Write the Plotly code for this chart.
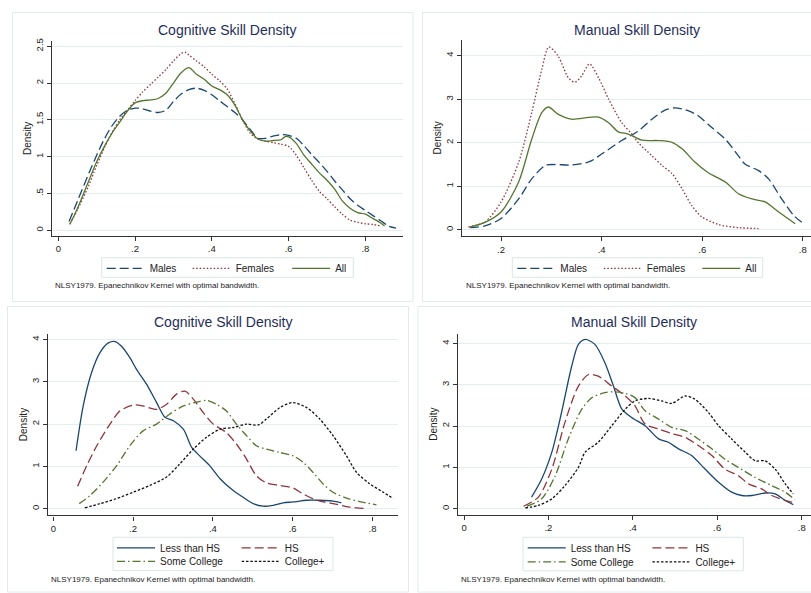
import plotly.graph_objects as go

W, H = 811, 593
FONT = "Liberation Sans, Arial, Helvetica, sans-serif"

# ---------------- data ----------------
# Panel 1: Cognitive skill density by gender
cog_m_x = [0.028, 0.05, 0.08, 0.10, 0.12, 0.14, 0.16, 0.18, 0.20, 0.22, 0.24, 0.26, 0.28, 0.30, 0.32, 0.34, 0.36,
           0.38, 0.40, 0.42, 0.44, 0.46, 0.48, 0.50, 0.52, 0.54, 0.56, 0.58, 0.60, 0.62, 0.64, 0.66, 0.68, 0.70,
           0.72, 0.74, 0.76, 0.78, 0.80, 0.82, 0.84, 0.86, 0.88]
cog_m_y = [0.12, 0.40, 0.78, 1.02, 1.24, 1.42, 1.55, 1.63, 1.66, 1.65, 1.62, 1.60, 1.63, 1.75, 1.85, 1.91, 1.93,
           1.90, 1.84, 1.76, 1.68, 1.60, 1.50, 1.37, 1.25, 1.25, 1.28, 1.30, 1.29, 1.25, 1.15, 1.03, 0.92, 0.80,
           0.67, 0.55, 0.43, 0.34, 0.27, 0.20, 0.13, 0.06, 0.03]
cog_f_x = [0.03, 0.05, 0.08, 0.10, 0.12, 0.14, 0.16, 0.18, 0.20, 0.22, 0.24, 0.26, 0.28, 0.30, 0.32, 0.33, 0.34,
           0.36, 0.38, 0.40, 0.42, 0.44, 0.46, 0.48, 0.50, 0.52, 0.54, 0.56, 0.58, 0.60, 0.62, 0.64, 0.66, 0.68,
           0.70, 0.72, 0.74, 0.76, 0.78, 0.80, 0.82, 0.84]
cog_f_y = [0.09, 0.28, 0.62, 0.88, 1.12, 1.33, 1.50, 1.63, 1.76, 1.88, 1.98, 2.08, 2.18, 2.30, 2.40, 2.42, 2.38,
           2.30, 2.22, 2.12, 2.03, 1.92, 1.72, 1.50, 1.32, 1.24, 1.21, 1.19, 1.17, 1.14, 1.02, 0.85, 0.68, 0.53,
           0.43, 0.32, 0.22, 0.14, 0.11, 0.09, 0.08, 0.06]
cog_a_x = [0.03, 0.05, 0.08, 0.10, 0.12, 0.14, 0.16, 0.18, 0.20, 0.22, 0.24, 0.26, 0.28, 0.30, 0.32, 0.34, 0.36,
           0.38, 0.40, 0.42, 0.44, 0.46, 0.48, 0.50, 0.52, 0.54, 0.56, 0.58, 0.59, 0.60, 0.62, 0.64, 0.66, 0.68,
           0.70, 0.72, 0.74, 0.76, 0.78, 0.80, 0.82, 0.84, 0.85]
cog_a_y = [0.08, 0.30, 0.68, 0.93, 1.14, 1.32, 1.47, 1.62, 1.73, 1.76, 1.77, 1.79, 1.86, 2.00, 2.14, 2.21, 2.12,
           2.05, 1.96, 1.91, 1.84, 1.70, 1.50, 1.35, 1.24, 1.21, 1.22, 1.23, 1.27, 1.27, 1.18, 1.02, 0.90, 0.78,
           0.68, 0.56, 0.40, 0.30, 0.24, 0.22, 0.16, 0.10, 0.06]

# Panel 2: Manual skill density by gender
man_m_x = [0.138, 0.168, 0.20, 0.235, 0.261, 0.288, 0.307, 0.34, 0.377, 0.40, 0.44, 0.473, 0.50, 0.526, 0.546,
           0.573, 0.592, 0.619, 0.646, 0.672, 0.685, 0.712, 0.732, 0.758, 0.782, 0.805]
man_m_y = [0.05, 0.09, 0.26, 0.71, 1.17, 1.48, 1.50, 1.49, 1.57, 1.74, 2.05, 2.27, 2.54, 2.75, 2.80,
           2.73, 2.62, 2.35, 2.08, 1.70, 1.51, 1.36, 1.17, 0.71, 0.33, 0.11]
man_f_x = [0.135, 0.168, 0.20, 0.235, 0.261, 0.281, 0.295, 0.314, 0.334, 0.347, 0.36, 0.376, 0.394, 0.414, 0.44,
           0.46, 0.473, 0.50, 0.52, 0.54, 0.56, 0.579, 0.599, 0.633, 0.672, 0.712]
man_f_y = [0.07, 0.18, 0.64, 1.55, 2.69, 3.68, 4.20, 3.98, 3.49, 3.39, 3.53, 3.81, 3.49, 3.00, 2.46,
           2.20, 2.00, 1.70, 1.48, 1.29, 0.94, 0.56, 0.30, 0.12, 0.05, 0.03]
man_a_x = [0.138, 0.168, 0.20, 0.235, 0.261, 0.281, 0.294, 0.314, 0.34, 0.374, 0.394, 0.414, 0.433, 0.453, 0.48,
           0.513, 0.54, 0.56, 0.586, 0.612, 0.646, 0.672, 0.699, 0.725, 0.752, 0.785]
man_a_y = [0.06, 0.17, 0.41, 1.10, 2.08, 2.69, 2.82, 2.65, 2.54, 2.58, 2.59, 2.46, 2.25, 2.20, 2.06,
           2.05, 2.01, 1.86, 1.55, 1.31, 1.10, 0.83, 0.71, 0.64, 0.41, 0.14]

# Panel 3: Cognitive skill density by education
ced_lhs_x = [0.057, 0.075, 0.096, 0.117, 0.138, 0.155, 0.171, 0.192, 0.209, 0.234, 0.259, 0.280, 0.301, 0.326,
             0.347, 0.367, 0.392, 0.418, 0.451, 0.476, 0.501, 0.526, 0.551, 0.576, 0.601, 0.635, 0.668, 0.701, 0.722]
ced_lhs_y = [1.37, 2.43, 3.22, 3.69, 3.92, 3.95, 3.84, 3.57, 3.29, 2.94, 2.51, 2.16, 2.08, 1.88,
             1.45, 1.25, 1.02, 0.71, 0.43, 0.27, 0.12, 0.06, 0.08, 0.14, 0.16, 0.20, 0.20, 0.18, 0.14]
ced_hs_x = [0.061, 0.084, 0.109, 0.142, 0.167, 0.20, 0.225, 0.259, 0.284, 0.309, 0.33, 0.351, 0.376, 0.401,
            0.434, 0.459, 0.484, 0.509, 0.534, 0.568, 0.601, 0.626, 0.66, 0.701, 0.743, 0.785]
ced_hs_y = [0.53, 1.02, 1.49, 2.00, 2.31, 2.45, 2.43, 2.35, 2.47, 2.71, 2.78, 2.59, 2.27, 2.00,
            1.80, 1.53, 1.18, 0.78, 0.61, 0.55, 0.49, 0.35, 0.20, 0.12, 0.04, 0.00]
ced_sc_x = [0.065, 0.092, 0.125, 0.159, 0.192, 0.225, 0.259, 0.292, 0.326, 0.355, 0.384, 0.409, 0.434, 0.459,
            0.484, 0.509, 0.534, 0.568, 0.601, 0.626, 0.651, 0.676, 0.701, 0.735, 0.768, 0.81]
ced_sc_y = [0.12, 0.31, 0.63, 1.02, 1.49, 1.84, 2.00, 2.24, 2.43, 2.51, 2.56, 2.47, 2.31, 2.00,
            1.73, 1.49, 1.41, 1.33, 1.25, 1.10, 0.86, 0.59, 0.39, 0.25, 0.17, 0.09]
ced_cp_x = [0.079, 0.117, 0.159, 0.20, 0.242, 0.284, 0.317, 0.351, 0.384, 0.418, 0.451, 0.484, 0.514, 0.534,
            0.568, 0.60, 0.635, 0.668, 0.701, 0.735, 0.76, 0.793, 0.827, 0.852]
ced_cp_y = [0.02, 0.12, 0.24, 0.39, 0.55, 0.75, 1.06, 1.41, 1.69, 1.88, 1.92, 2.00, 1.98, 2.12,
            2.39, 2.51, 2.39, 2.12, 1.73, 1.25, 0.86, 0.59, 0.39, 0.24]

# Panel 4: Manual skill density by education
med_lhs_x = [0.16, 0.184, 0.208, 0.231, 0.255, 0.271, 0.287, 0.31, 0.334, 0.354, 0.374, 0.397, 0.429, 0.461,
             0.484, 0.508, 0.539, 0.571, 0.603, 0.634, 0.658, 0.682, 0.713, 0.737, 0.761, 0.78]
med_lhs_y = [0.28, 0.72, 1.37, 2.33, 3.45, 3.98, 4.10, 3.98, 3.53, 2.97, 2.41, 2.21, 2.01, 1.69,
             1.61, 1.45, 1.29, 0.96, 0.64, 0.40, 0.32, 0.32, 0.38, 0.36, 0.20, 0.10]
med_hs_x = [0.141, 0.176, 0.208, 0.239, 0.271, 0.295, 0.318, 0.35, 0.382, 0.405, 0.429, 0.461, 0.492, 0.524,
            0.555, 0.587, 0.618, 0.65, 0.674, 0.705, 0.729, 0.769, 0.784]
med_hs_y = [0.06, 0.28, 0.96, 2.09, 2.97, 3.25, 3.21, 2.97, 2.73, 2.49, 2.05, 1.93, 1.82, 1.73,
            1.53, 1.29, 0.96, 0.80, 0.60, 0.48, 0.32, 0.18, 0.14]
med_sc_x = [0.149, 0.184, 0.216, 0.247, 0.279, 0.303, 0.334, 0.358, 0.382, 0.405, 0.429, 0.461, 0.492, 0.524,
            0.555, 0.587, 0.618, 0.65, 0.689, 0.729, 0.761, 0.784]
med_sc_y = [0.06, 0.24, 0.80, 1.69, 2.41, 2.69, 2.81, 2.83, 2.79, 2.69, 2.37, 2.17, 1.97, 1.89,
            1.69, 1.45, 1.20, 1.00, 0.76, 0.56, 0.40, 0.22]
med_cp_x = [0.145, 0.176, 0.208, 0.239, 0.271, 0.287, 0.318, 0.35, 0.382, 0.405, 0.437, 0.468, 0.492, 0.524,
            0.547, 0.579, 0.603, 0.634, 0.666, 0.69, 0.713, 0.737, 0.761, 0.78]
med_cp_y = [0.02, 0.08, 0.24, 0.56, 1.00, 1.37, 1.61, 2.01, 2.41, 2.61, 2.67, 2.61, 2.55, 2.73,
            2.65, 2.33, 2.01, 1.69, 1.37, 1.16, 1.16, 0.96, 0.60, 0.36]

# tick labels
cog_gender_yticks = [0, 0.5, 1, 1.5, 2, 2.5]
cog_gender_yticktext = ["0", ".5", "1", "1.5", "2", "2.5"]
int_yticks = [0, 1, 2, 3, 4]
int_yticktext = ["0", "1", "2", "3", "4"]
xticks_full = [0, 0.2, 0.4, 0.6, 0.8]
xticktext_full = ["0", ".2", ".4", ".6", ".8"]
xticks_man = [0.2, 0.4, 0.6, 0.8]
xticktext_man = [".2", ".4", ".6", ".8"]

titles = ["Cognitive Skill Density", "Manual Skill Density", "Cognitive Skill Density", "Manual Skill Density"]
footnote = "NLSY1979. Epanechnikov Kernel with optimal bandwidth."

# ---------------- styling ----------------
NAVY = "#1a476f"
MAROON = "#90353b"
GREEN = "#55752f"
BLACK = "#111111"
LW = 1.3
DASH_LONG = "9px,4px"
DASH_DOT = "1.5px,2px"
DASH_SHORT = "2.5px,1.8px"
DASH_DASHDOT = "8px,3px,1.5px,3px"


def px_x(p):
    return p / W


def px_y(p):
    return 1 - p / H


fig = go.Figure()


def add(x, y, name, color, dash, xa, ya, legend, lwidth=None):
    fig.add_trace(go.Scatter(
        x=x, y=y, mode="lines", name=name, xaxis=xa, yaxis=ya, legend=legend,
        line=dict(color=color, width=LW, dash=dash, shape="spline", smoothing=0.8),
        legendwidth=lwidth, hoverinfo="skip"))


add(cog_m_x, cog_m_y, "Males", NAVY, DASH_LONG, "x", "y", "legend", 33)
add(cog_f_x, cog_f_y, "Females", MAROON, DASH_DOT, "x", "y", "legend", 46.5)
add(cog_a_x, cog_a_y, "All", GREEN, "solid", "x", "y", "legend", 12)

add(man_m_x, man_m_y, "Males", NAVY, DASH_LONG, "x2", "y2", "legend2", 33.5)
add(man_f_x, man_f_y, "Females", MAROON, DASH_DOT, "x2", "y2", "legend2", 45.5)
add(man_a_x, man_a_y, "All", GREEN, "solid", "x2", "y2", "legend2", 12)

add(ced_lhs_x, ced_lhs_y, "Less than HS", NAVY, "solid", "x3", "y3", "legend3", 71.7)
add(ced_hs_x, ced_hs_y, "HS", MAROON, DASH_LONG, "x3", "y3", "legend3", 20)
add(ced_sc_x, ced_sc_y, "Some College", GREEN, DASH_DASHDOT, "x3", "y3", "legend4", 71.7)
add(ced_cp_x, ced_cp_y, "College+", BLACK, DASH_SHORT, "x3", "y3", "legend4", 45)

add(med_lhs_x, med_lhs_y, "Less than HS", NAVY, "solid", "x4", "y4", "legend5", 71.7)
add(med_hs_x, med_hs_y, "HS", MAROON, DASH_LONG, "x4", "y4", "legend5", 20)
add(med_sc_x, med_sc_y, "Some College", GREEN, DASH_DASHDOT, "x4", "y4", "legend6", 71.7)
add(med_cp_x, med_cp_y, "College+", BLACK, DASH_SHORT, "x4", "y4", "legend6", 45)

AXCOL = "#333333"
GRID = "#e4edef"
TICKFONT = dict(family=FONT, size=9.5, color="#222222")


def xaxis(dom, rng, tv, tt, anchor):
    return dict(domain=[px_x(dom[0]), px_x(dom[1])], range=rng, anchor=anchor,
                tickvals=tv, ticktext=tt, ticks="outside", ticklen=4, tickwidth=1.1,
                tickcolor=AXCOL, showline=True, linecolor=AXCOL, linewidth=1.3,
                showgrid=False, zeroline=False, tickfont=TICKFONT)


def yaxis(dom, rng, tv, tt, anchor):
    return dict(domain=[px_y(dom[1]), px_y(dom[0])], range=rng, anchor=anchor,
                tickvals=tv, ticktext=tt, ticks="outside", ticklen=4, tickwidth=1.1,
                tickcolor=AXCOL, showline=True, linecolor=AXCOL, linewidth=1.3,
                showgrid=True, gridcolor=GRID, gridwidth=1, zeroline=False,
                tickangle=-90, tickfont=TICKFONT,
                title=dict(text="Density", font=dict(family=FONT, size=10, color="#222222"), standoff=0))


panels = [
    # x px domain, y px domain (top, bottom), x range, y range
    dict(xd=(52, 403), yd=(38, 234), xr=[-0.0164, 0.898], yr=[-0.074, 2.573]),
    dict(xd=(462.3, 811), yd=(36.7, 234.3), xr=[0.123, 0.8163], yr=[-0.144, 4.37]),
    dict(xd=(48.3, 398), yd=(332.3, 515), xr=[-0.0125, 0.864], yr=[-0.158, 4.14]),
    dict(xd=(457.7, 811), yd=(332.3, 514.3), xr=[-0.015, 0.822], yr=[-0.145, 4.24]),
]

layout = dict(
    width=W, height=H, margin=dict(l=0, r=0, t=0, b=0),
    paper_bgcolor="white", plot_bgcolor="white", showlegend=True,
    font=dict(family=FONT, color="#222222"),
)
layout["xaxis"] = xaxis(panels[0]["xd"], panels[0]["xr"], xticks_full, xticktext_full, "y")
layout["yaxis"] = yaxis(panels[0]["yd"], panels[0]["yr"], cog_gender_yticks, cog_gender_yticktext, "x")
layout["xaxis2"] = xaxis(panels[1]["xd"], panels[1]["xr"], xticks_man, xticktext_man, "y2")
layout["yaxis2"] = yaxis(panels[1]["yd"], panels[1]["yr"], int_yticks, int_yticktext, "x2")
layout["xaxis3"] = xaxis(panels[2]["xd"], panels[2]["xr"], xticks_full, xticktext_full, "y3")
layout["yaxis3"] = yaxis(panels[2]["yd"], panels[2]["yr"], int_yticks, int_yticktext, "x3")
layout["xaxis4"] = xaxis(panels[3]["xd"], panels[3]["xr"], xticks_full, xticktext_full, "y4")
layout["yaxis4"] = yaxis(panels[3]["yd"], panels[3]["yr"], int_yticks, int_yticktext, "x4")


def leg(xpx, ypx):
    return dict(orientation="h", x=px_x(xpx), y=px_y(ypx), xanchor="left", yanchor="middle",
                xref="paper", yref="paper", itemwidth=38, bgcolor="rgba(0,0,0,0)", borderwidth=0,
                font=dict(family=FONT, size=10, color="#222222"), tracegroupgap=0)


layout["legend"] = leg(101.7, 266.7)
layout["legend2"] = leg(512.3, 266.7)
layout["legend3"] = leg(112, 547.7)
layout["legend4"] = leg(112, 561.3)
layout["legend5"] = leg(522.7, 547.7)
layout["legend6"] = leg(522.7, 561.7)

fig.update_layout(**layout)

# panel frames and legend boxes
shapes = []
frames = [(12.5, 9.5, 413, 300), (422.5, 9.5, 815, 300), (7.5, 305, 408.5, 592), (418, 305, 815, 592)]
for (x0, y0, x1, y1) in frames:
    shapes.append(dict(type="rect", xref="paper", yref="paper", x0=px_x(x0), x1=px_x(x1),
                       y0=px_y(y1), y1=px_y(y0), line=dict(color="#e2eaea", width=1),
                       fillcolor="rgba(0,0,0,0)", layer="below"))
legboxes = [(101.7, 256, 353.3, 275.7), (512.3, 256, 762.7, 275.7), (113, 537, 333, 570.5), (523, 537, 743.3, 570.7)]
for (x0, y0, x1, y1) in legboxes:
    shapes.append(dict(type="rect", xref="paper", yref="paper", x0=px_x(x0), x1=px_x(x1),
                       y0=px_y(y1), y1=px_y(y0), line=dict(color="#dce5e5", width=1),
                       fillcolor="white", layer="below"))
fig.update_layout(shapes=shapes)

# titles and footnotes
ann = []
title_pos = [(227.5, 27.3), (636.7, 27.3), (223, 321), (634, 321)]
for t, (cx, cy) in zip(titles, title_pos):
    ann.append(dict(text=t, x=px_x(cx), y=px_y(cy), xref="paper", yref="paper", showarrow=False,
                    xanchor="center", yanchor="middle",
                    font=dict(family=FONT, size=14, color="#1f2d5c")))
foot_pos = [(53, 284), (464, 284), (49, 579), (459, 579)]
for (fx, fy) in foot_pos:
    ann.append(dict(text=footnote, x=px_x(fx), y=px_y(fy), xref="paper", yref="paper", showarrow=False,
                    xanchor="left", yanchor="middle",
                    font=dict(family=FONT, size=8, color="#222222")))
fig.update_layout(annotations=ann)

fig.write_html("out.html")
